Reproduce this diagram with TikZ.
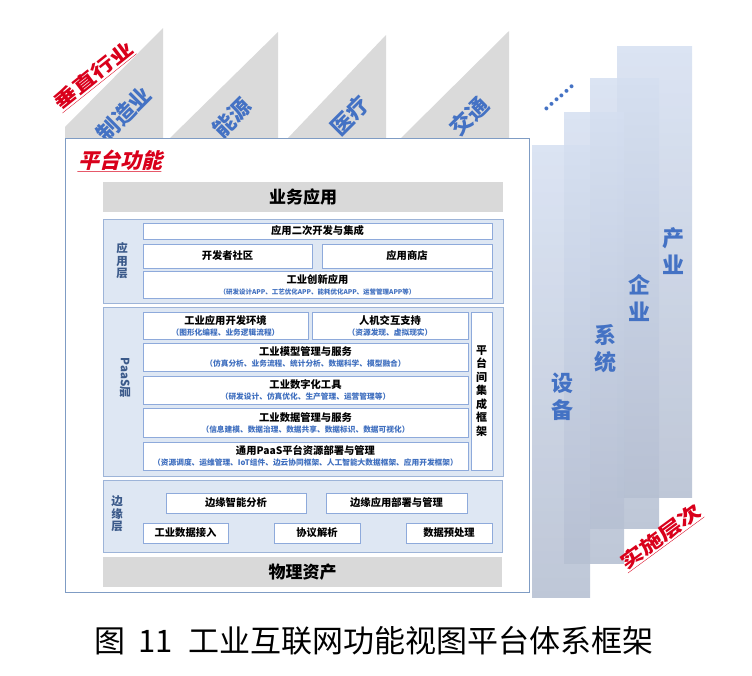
\documentclass[tikz,border=0pt]{standalone}
\usepackage{fontspec}
\setmainfont{Noto Sans CJK SC}
\usepackage{tikz}
\definecolor{panelfill}{HTML}{DEE7F3}
\definecolor{panelline}{HTML}{9DB4D8}
\definecolor{boxline}{HTML}{8EAADB}
\definecolor{barfill}{HTML}{D9D9D9}
\definecolor{tagblue}{HTML}{4472C4}
\definecolor{subblue}{HTML}{3F6FBF}
\definecolor{layerblue}{HTML}{3B5A8A}
\definecolor{tagred}{HTML}{D9001B}
\definecolor{frameline}{HTML}{7F9CC4}
\definecolor{trigray}{HTML}{DADADA}
\definecolor{pilltop}{HTML}{D5DFF1}
\definecolor{pillbot}{HTML}{B3BDD0}
\newcommand{\subt}[1]{{\fontsize{7.7}{8}\selectfont\color{subblue}#1}}

\begin{document}
\begin{tikzpicture}[x=1pt,y=-1pt,
	panel/.style={draw=panelline, fill=panelfill, line width=0.8pt, inner sep=0pt},
	modbox/.style={draw=boxline, fill=white, line width=0.8pt, inner sep=0pt, align=center, font=\bfseries\fontsize{10.3}{11}\selectfont},
	graybar/.style={fill=barfill, inner sep=0pt, font=\bfseries\fontsize{17}{17}\selectfont},
	layertag/.style={text=layerblue, align=center, font=\bfseries\fontsize{11.5}{12.5}\selectfont},
	industry/.style={text=tagblue, rotate=45, font=\bfseries\fontsize{22}{22}\selectfont},
	pillartag/.style={text=tagblue, align=center, font=\bfseries\fontsize{22}{27}\selectfont},
	redtag/.style={text=tagred, xslant=0.25, font=\bfseries\fontsize{21}{21}\selectfont},
	pillar/.style={fill opacity=0.85, top color=pilltop, bottom color=pillbot}]
	\useasboundingbox (0,0) rectangle (752,675);
	%Settori verticali
	\fill[trigray] (65,138) -- (65,127) -- (163,28) -- (163,138) -- cycle;
	\fill[trigray] (170,138) -- (278,32) -- (278,138) -- cycle;
	\fill[trigray] (288,138) -- (386,35) -- (386,138) -- cycle;
	\fill[trigray] (401,138) -- (509,31) -- (509,138) -- cycle;
	\node[industry] (manuf) at (124,114) {制造业};
	\node[industry] (energy) at (232,118) {能源};
	\node[industry] (health) at (350,116) {医疗};
	\node[industry] (traffic) at (469,116) {交通};
	\node[text=tagblue, rotate=42, font=\bfseries\fontsize{18}{18}\selectfont] (more) at (559,98) {……};
	\node[redtag, rotate=45] (vertical) at (94,76) {\underline{垂直行业}};
	%Livelli
	\shade[pillar] (617,46) rectangle (692,497);
	\shade[pillar] (590,78) rectangle (659,528);
	\shade[pillar] (564,112) rectangle (624,563);
	\shade[pillar] (532,145) rectangle (590,597);
	\node[pillartag] (device) at (562,397) {设\\备};
	\node[pillartag] (system) at (605,349) {系\\统};
	\node[pillartag] (enterprise) at (639,298) {企\\业};
	\node[pillartag] (industrytag) at (673,251) {产\\业};
	\node[redtag, rotate=42] (impl) at (661,537) {\underline{实施层次}};
	%Piattaforma
	\node[draw=frameline, fill=white, line width=1pt, minimum width=464pt, minimum height=454pt] (platform) at (297,365) {};
	\node[redtag] (platfunc) at (122,161) {\underline{平台功能}};
	\node[graybar, minimum width=400pt, minimum height=30pt] (bizapp) at (303,197) {业务应用};
	%Livello applicazioni
	\node[panel, minimum width=400pt, minimum height=84pt] (applayer) at (303,261) {};
	\node[layertag] (applabel) at (122,261) {应\\用\\层};
	\node[modbox, minimum width=349pt, minimum height=16pt] (secdev) at (317.5,231) {应用二次开发与集成};
	\node[modbox, minimum width=169pt, minimum height=24pt] (devcomm) at (227.5,256) {开发者社区};
	\node[modbox, minimum width=170pt, minimum height=24pt] (appstore) at (407,256) {应用商店};
	\node[modbox, minimum width=349pt, minimum height=27pt] (innoapp) at (317.5,284.5) {工业创新应用\\{\fontsize{6.5}{7}\selectfont\color{subblue}（研发设计APP、工艺优化APP、能耗优化APP、运营管理APP等）}};
	%Livello PaaS
	\node[panel, minimum width=400pt, minimum height=169pt] (paaslayer) at (303,391.5) {};
	\node[layertag, rotate=-90] (paaslabel) at (125,378) {PaaS层};
	\node[modbox, minimum width=165pt, minimum height=27pt] (devenv) at (225.5,325.5) {工业应用开发环境\\\subt{（图形化编程、业务逻辑流程）}};
	\node[modbox, minimum width=156pt, minimum height=27pt] (hmi) at (390,325.5) {人机交互支持\\\subt{（资源发现、虚拟现实）}};
	\node[modbox, minimum width=21pt, minimum height=158pt, font=\bfseries\fontsize{11}{13.5}\selectfont] (integ) at (481.5,391) {平\\台\\间\\集\\成\\框\\架};
	\node[modbox, minimum width=325pt, minimum height=28pt] (model) at (305.5,357) {工业模型管理与服务\\\subt{（仿真分析、业务流程、统计分析、数据科学、模型融合）}};
	\node[modbox, minimum width=325pt, minimum height=28pt] (digtool) at (305.5,390) {工业数字化工具\\\subt{（研发设计、仿真优化、生产管理、运营管理等）}};
	\node[modbox, minimum width=325pt, minimum height=29pt] (datamgmt) at (305.5,422.5) {工业数据管理与服务\\\subt{（信息建模、数据治理、数据共享、数据标识、数据可视化）}};
	\node[modbox, minimum width=325pt, minimum height=28pt] (paasres) at (305.5,456) {通用PaaS平台资源部署与管理\\\subt{（资源调度、运维管理、IoT组件、边云协同框架、人工智能大数据框架、应用开发框架）}};
	%Livello edge
	\node[panel, minimum width=399pt, minimum height=72pt] (edgelayer) at (302.5,516) {};
	\node[layertag] (edgelabel) at (117,514) {边\\缘\\层};
	\node[modbox, minimum width=140pt, minimum height=20pt] (edgeai) at (236,503) {边缘智能分析};
	\node[modbox, minimum width=141pt, minimum height=20pt] (edgedeploy) at (396.5,503) {边缘应用部署与管理};
	\node[modbox, minimum width=85pt, minimum height=20pt] (ingest) at (185.5,533) {工业数据接入};
	\node[modbox, minimum width=86pt, minimum height=20pt] (protocol) at (317,533) {协议解析};
	\node[modbox, minimum width=86pt, minimum height=20pt] (preproc) at (449,533) {数据预处理};
	\node[graybar, minimum width=399pt, minimum height=30pt] (assets) at (302.5,572) {物理资产};
	%Didascalia
	\node[font=\fontsize{31}{31}\selectfont] (caption) at (374,641) {图\hspace{0.4em}11\hspace{0.5em}工业互联网功能视图平台体系框架};
\end{tikzpicture}
\end{document}
